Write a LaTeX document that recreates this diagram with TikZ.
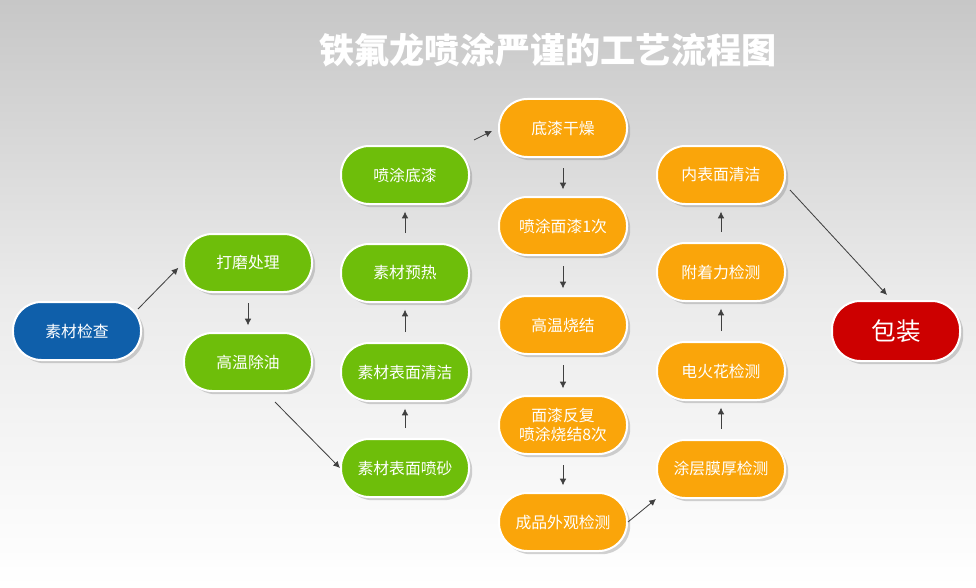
\documentclass[tikz,border=0pt]{standalone}
\usepackage{fontspec}
\setmainfont{Noto Sans CJK SC}
\usetikzlibrary{arrows.meta,positioning,shadows}
\definecolor{stepgreen}{RGB}{110,190,10}
\definecolor{steporange}{RGB}{250,165,10}
\definecolor{stepblue}{RGB}{15,95,170}
\definecolor{stepred}{RGB}{205,0,0}
\begin{document}
\begin{tikzpicture}[x=0.03cm,y=-0.03cm]
  \tikzstyle{stepbox} = [shape=rectangle, rounded corners=8.5mm, minimum width=3.84cm, minimum height=1.74cm, text=white, font=\fontsize{13.5}{16}\selectfont, align=center, draw=white, line width=0.6mm, drop shadow={opacity=0.35}];
  \tikzstyle{green} = [stepbox, fill=stepgreen];
  \tikzstyle{orange} = [stepbox, fill=steporange];
  \tikzstyle{link} = [-{Latex[length=2mm,width=2mm]}, line width=0.25mm, color=black!75, shorten <=3mm, shorten >=2mm];

  \shade[top color=black!22, bottom color=white, middle color=black!8] (0,0) rectangle (976,588);
  \useasboundingbox (0,0) rectangle (976,588);
  \node[text=white, font=\bfseries\fontsize{30}{34}\selectfont] (title) at (548,50) {铁氟龙喷涂严谨的工艺流程图};

  \node[stepbox, fill=stepblue] (A) at (77,331) {素材检查};
  \node[green] (B) at (248,263) {打磨处理};
  \node[green] (C) at (248,362) {高温除油};
  \node[green] (D) at (405,468) {素材表面喷砂};
  \node[green] (E) at (405,372) {素材表面清洁};
  \node[green] (F) at (405,273) {素材预热};
  \node[green] (G) at (405,175) {喷涂底漆};
  \node[orange] (H) at (563,128) {底漆干燥};
  \node[orange] (I) at (563,226) {喷涂面漆1次};
  \node[orange] (J) at (563,325) {高温烧结};
  \node[orange] (K) at (563,425) {面漆反复\\喷涂烧结8次};
  \node[orange] (L) at (563,522) {成品外观检测};
  \node[orange] (M) at (721,469) {涂层膜厚检测};
  \node[orange] (N) at (721,371) {电火花检测};
  \node[orange] (O) at (721,272) {附着力检测};
  \node[orange] (P) at (721,175) {内表面清洁};
  \node[stepbox, fill=stepred, minimum height=1.8cm, font=\fontsize{21}{24}\selectfont] (Q) at (896,331) {包装};

  \coordinate (C1) at (275,402);
  \coordinate (P1) at (790,190);
  \coordinate (Q1) at (887,295);
  \draw[link, shorten <=0mm] (A.north east) ++(-4,8) -- (B.west);
  \draw[link] (B) -- (C);
  \draw[link, shorten <=0mm, shorten >=0mm] (C1) -- (D.west);
  \draw[link] (D) -- (E);
  \draw[link] (E) -- (F);
  \draw[link] (F) -- (G);
  \draw[link, shorten <=0mm] (G.north east) ++(4,-5) -- (H.west);
  \draw[link] (H) -- (I);
  \draw[link] (I) -- (J);
  \draw[link] (J) -- (K);
  \draw[link] (K) -- (L);
  \draw[link, shorten <=0mm, shorten >=0mm] (L.east) -- (M.south west);
  \draw[link] (M) -- (N);
  \draw[link] (N) -- (O);
  \draw[link] (O) -- (P);
  \draw[link, shorten <=0mm, shorten >=0mm] (P1) -- (Q1);
\end{tikzpicture}
\end{document}
